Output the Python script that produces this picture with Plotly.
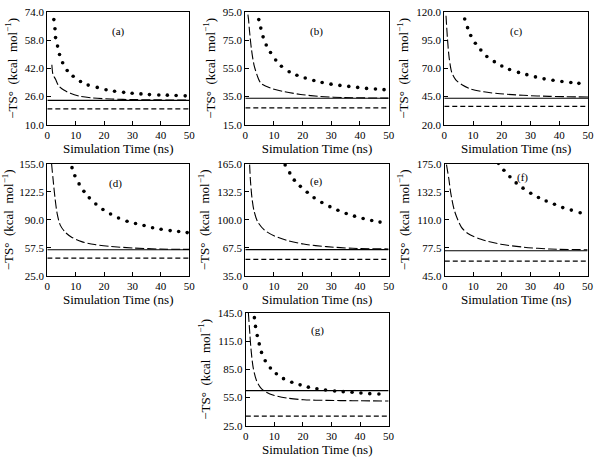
import plotly.graph_objects as go

# ---------------- data ----------------
T_RANGE = [0, 50]
X_TICKS = [0, 10, 20, 30, 40, 50]
panel_labels = ["(a)", "(b)", "(c)", "(d)", "(e)", "(f)", "(g)"]

a_dot_t = [2.3, 2.7, 2.9, 3.6, 4.3, 5.4, 7.0, 9.1, 11.7, 14.4, 17.6, 20.7, 23.7, 26.9, 29.9, 33.0, 36.0, 39.3, 42.3, 45.4, 48.6]
a_dot_s = [69.6, 64.4, 59.4, 54.6, 49.8, 45.2, 40.8, 37.5, 34.5, 32.5, 31.2, 29.9, 29.0, 28.4, 27.9, 27.5, 27.1, 26.9, 26.8, 26.6, 26.4]
a_dash_t = [1.6, 2.0, 2.9, 4.0, 5.8, 8.1, 11.5, 15.6, 22.5, 30.6, 40.0, 50.0]
a_dash_s = [44.0, 38.5, 35.8, 32.1, 29.7, 27.9, 26.2, 25.3, 24.6, 24.3, 24.1, 24.0]
a_solid, a_short = 23.8, 19.0
a_yticks = [10.0, 26.0, 42.0, 58.0, 74.0]

b_dot_t = [4.7, 5.4, 6.2, 7.3, 8.8, 10.6, 12.6, 15.3, 18.0, 20.9, 23.9, 26.8, 29.9, 33.0, 36.1, 39.2, 42.3, 45.4, 48.4]
b_dot_s = [89.5, 83.5, 77.3, 71.5, 66.2, 60.9, 56.5, 52.6, 50.1, 48.2, 46.4, 45.0, 43.8, 42.9, 42.2, 41.5, 40.8, 40.4, 39.9]
b_dash_t = [0.9, 1.1, 1.5, 2.1, 3.0, 4.4, 5.5, 8.9, 13.5, 19.3, 26.1, 34.2, 50.0]
b_dash_s = [93.0, 90.0, 80.7, 69.2, 57.7, 48.5, 44.3, 40.9, 38.5, 36.5, 35.1, 34.3, 33.9]
b_solid, b_short = 33.8, 27.0
b_yticks = [15.0, 35.0, 55.0, 75.0, 95.0]

c_dot_t = [7.1, 8.1, 9.2, 10.8, 12.7, 14.8, 17.4, 20.0, 22.7, 25.8, 28.7, 31.7, 34.7, 37.8, 40.9, 44.0, 46.8]
c_dot_s = [113.7, 106.0, 99.1, 92.2, 86.2, 80.5, 75.9, 72.1, 69.0, 66.4, 64.4, 62.4, 60.7, 59.5, 58.4, 57.5, 56.7]
c_dash_t = [0.6, 1.1, 1.7, 2.6, 4.0, 6.3, 9.1, 13.7, 19.4, 27.4, 36.5, 50.0]
c_dash_s = [116.6, 96.5, 79.3, 66.4, 59.8, 55.2, 51.8, 49.2, 47.5, 46.1, 45.2, 44.6]
c_solid, c_short = 43.5, 36.3
c_yticks = [20.0, 45.0, 70.0, 95.0, 120.0]

d_dot_t = [8.7, 9.7, 11.2, 12.9, 14.8, 17.1, 19.6, 22.3, 25.1, 28.1, 31.1, 34.1, 37.1, 40.1, 43.3, 46.3, 49.3]
d_dot_s = [150.5, 141.0, 131.6, 123.0, 115.4, 108.3, 101.9, 96.6, 92.1, 88.3, 85.7, 83.4, 80.8, 78.9, 77.4, 76.3, 75.1]
d_dash_t = [1.5, 2.0, 2.7, 3.5, 4.6, 6.4, 8.7, 12.1, 16.7, 22.5, 30.6, 39.8, 50.0]
d_dash_s = [155.0, 138.0, 115.5, 96.6, 83.5, 75.2, 69.5, 64.6, 61.2, 59.0, 57.1, 56.0, 55.6]
d_solid, d_short = 55.2, 45.4
d_yticks = [25.0, 57.5, 90.0, 122.5, 155.0]

e_dot_t = [13.9, 15.5, 17.1, 19.2, 21.6, 24.0, 26.7, 29.5, 32.3, 35.2, 38.1, 41.1, 44.1, 47.0]
e_dot_s = [163.5, 154.4, 146.0, 138.8, 131.9, 125.5, 120.1, 115.2, 111.0, 107.2, 104.2, 101.5, 99.2, 97.3]
e_dash_t = [1.5, 1.8, 2.3, 3.0, 4.3, 6.6, 10.0, 14.6, 20.3, 28.3, 37.4, 50.0]
e_dash_s = [164.0, 145.0, 126.0, 111.0, 97.7, 88.2, 81.4, 76.0, 71.8, 68.8, 66.9, 66.1]
e_solid, e_short = 65.4, 54.0
e_yticks = [35.0, 67.5, 100.0, 132.5, 165.0]

f_dot_t = [18.8, 20.7, 22.8, 25.0, 27.4, 30.1, 32.8, 35.5, 38.4, 41.3, 44.3, 47.4]
f_dot_s = [175.5, 167.5, 160.0, 152.8, 146.7, 140.7, 135.9, 131.7, 128.0, 124.1, 121.2, 118.1]
f_dash_t = [0.6, 1.4, 2.1, 3.4, 5.8, 8.1, 12.7, 19.6, 27.6, 36.8, 50.0]
f_dash_s = [174.0, 158.0, 141.0, 120.4, 101.5, 94.0, 87.3, 81.6, 78.2, 76.0, 75.2]
f_solid, f_short = 74.0, 62.0
f_yticks = [45.0, 77.5, 110.0, 142.5, 175.0]
f_yticktext = ["45.0", "77.5", "110.0", "132.5", "175.0"]

g_dot_t = [3.0, 3.4, 4.0, 4.7, 5.5, 6.8, 8.6, 10.7, 13.2, 16.1, 19.0, 21.9, 24.9, 27.9, 31.1, 34.1, 37.2, 40.3, 43.4, 46.6]
g_dot_s = [139.8, 130.5, 120.9, 111.9, 102.9, 94.0, 86.4, 80.2, 75.0, 71.2, 68.4, 66.0, 64.3, 62.9, 61.9, 61.2, 60.5, 59.8, 59.1, 58.7]
g_dash_t = [0.9, 1.3, 1.8, 2.6, 3.8, 5.3, 7.2, 10.0, 14.6, 20.3, 28.3, 37.4, 50.0]
g_dash_s = [145.0, 127.8, 107.0, 86.4, 72.6, 65.0, 60.5, 57.1, 54.3, 52.6, 51.9, 51.6, 51.2]
g_solid, g_short = 62.2, 35.3
g_yticks = [25.0, 55.0, 85.0, 115.0, 145.0]

panels = [
    (a_dot_t, a_dot_s, a_dash_t, a_dash_s, a_solid, a_short, a_yticks, None),
    (b_dot_t, b_dot_s, b_dash_t, b_dash_s, b_solid, b_short, b_yticks, None),
    (c_dot_t, c_dot_s, c_dash_t, c_dash_s, c_solid, c_short, c_yticks, None),
    (d_dot_t, d_dot_s, d_dash_t, d_dash_s, d_solid, d_short, d_yticks, None),
    (e_dot_t, e_dot_s, e_dash_t, e_dash_s, e_solid, e_short, e_yticks, None),
    (f_dot_t, f_dot_s, f_dash_t, f_dash_s, f_solid, f_short, f_yticks, f_yticktext),
    (g_dot_t, g_dot_s, g_dash_t, g_dash_s, g_solid, g_short, g_yticks, None),
]

# ---------------- layout geometry (pixels) ----------------
W, H = 600, 459
boxes = [
    (45, 189, 6, 122), (246, 391.5, 6, 122), (448, 594, 6, 122),
    (45, 189, 162, 277), (246, 391.5, 162, 277), (448.5, 593.5, 162, 277),
    (246.5, 391.5, 315, 431),
]
label_pos = [(25, 0.9), (25, 0.9), (25, 0.9), (24, 0.9), (25, 0.92), (27.2, 0.95), (25, 0.92)]

FONT = "Liberation Serif"
BLACK = "#000000"
ytitle = "\u2212TS\u00b0\u00a0\u00a0(kcal\u00a0\u00a0mol<sup>\u22121</sup>)"

fig = go.Figure()
layout = dict(
    width=W, height=H, margin=dict(l=0, r=0, t=0, b=0),
    paper_bgcolor="white", plot_bgcolor="white", showlegend=False,
    font=dict(family=FONT, color=BLACK, size=11),
)
annotations = []
for i, (dt, ds, lt, ls, solid, short, yt, ytt) in enumerate(panels):
    n = "" if i == 0 else str(i + 1)
    xa, ya = "x" + n, "y" + n
    l, r, t, b = boxes[i]
    fig.add_trace(go.Scatter(x=T_RANGE, y=[short, short], xaxis=xa, yaxis=ya, mode="lines",
                             line=dict(color=BLACK, width=1.2, dash="5px,3px")))
    fig.add_trace(go.Scatter(x=T_RANGE, y=[solid, solid], xaxis=xa, yaxis=ya, mode="lines",
                             line=dict(color=BLACK, width=1.2)))
    fig.add_trace(go.Scatter(x=lt, y=ls, xaxis=xa, yaxis=ya, mode="lines",
                             line=dict(color=BLACK, width=1.1, dash="9px,3px", shape="spline", smoothing=0.8)))
    fig.add_trace(go.Scatter(x=dt, y=ds, xaxis=xa, yaxis=ya, mode="markers",
                             marker=dict(color=BLACK, size=3.6), cliponaxis=True))
    layout["xaxis" + n] = dict(
        domain=[l / W, r / W], anchor=ya, range=[0, 50], tickvals=X_TICKS,
        ticks="inside", ticklen=4, tickcolor=BLACK, tickwidth=1,
        showline=True, linecolor=BLACK, linewidth=1.2, mirror=True,
        showgrid=False, zeroline=False, tickfont=dict(size=11, family=FONT, color=BLACK),
        ticklabeloverflow="allow",
        title=dict(text="Simulation Time (ns)", font=dict(size=13, family=FONT, color=BLACK), standoff=0),
    )
    layout["yaxis" + n] = dict(
        domain=[1 - b / H, 1 - t / H], anchor=xa, range=[yt[0], yt[-1]], tickvals=yt,
        ticktext=ytt if ytt else [f"{v:.1f}" for v in yt],
        ticks="inside", ticklen=4, tickcolor=BLACK, tickwidth=1,
        showline=True, linecolor=BLACK, linewidth=1.2, mirror=True,
        showgrid=False, zeroline=False, tickfont=dict(size=11, family=FONT, color=BLACK),
        ticklabeloverflow="allow",
        title=dict(text=ytitle, font=dict(size=13, family=FONT, color=BLACK), standoff=4),
    )
    lx, ly = label_pos[i]
    annotations.append(dict(text=panel_labels[i], x=lx, y=ly, xref=xa, yref=ya + " domain",
                            showarrow=False, font=dict(size=11, family=FONT, color=BLACK)))

layout["annotations"] = annotations
fig.update_layout(**layout)
fig.write_html("out.html", config={"displayModeBar": False},
               post_script="document.body.style.margin='0';document.body.style.padding='0';")
